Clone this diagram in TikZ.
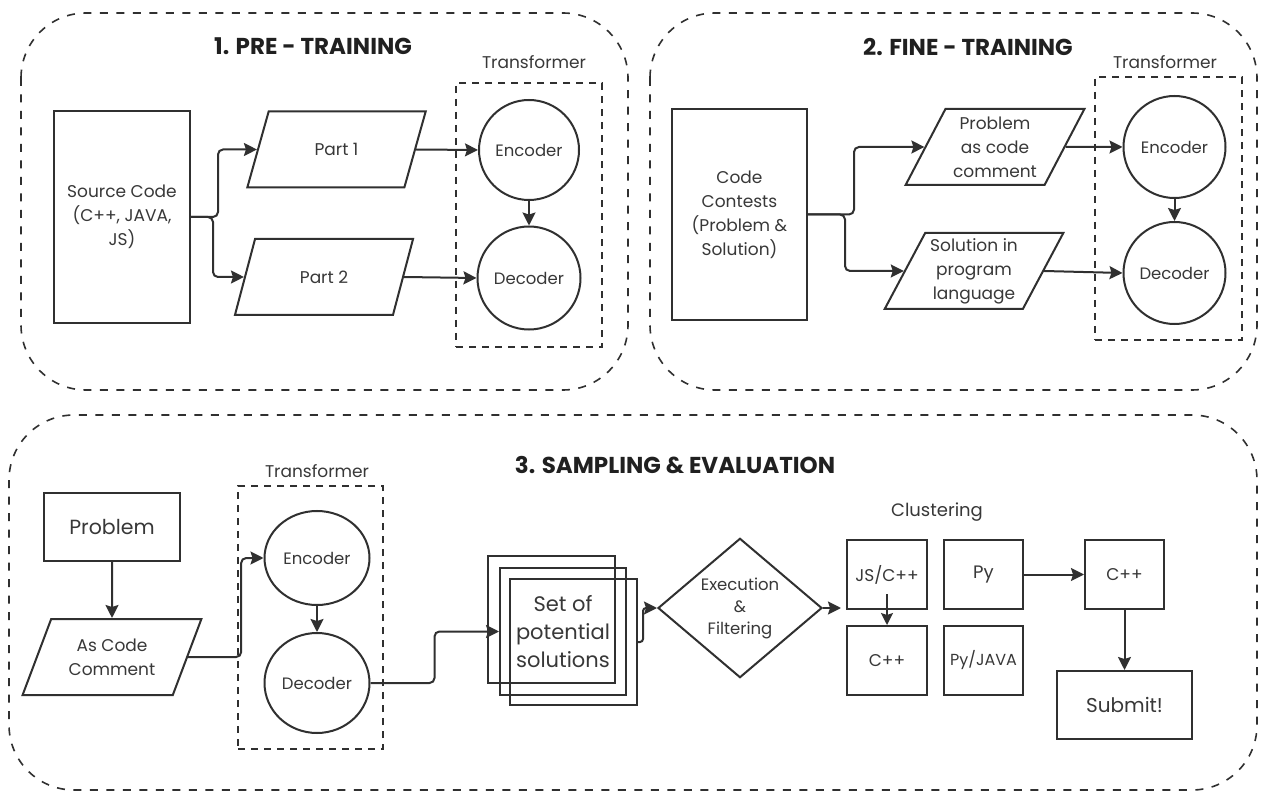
\documentclass[tikz,border=0pt]{standalone}
\usepackage{fontspec}
\setmainfont{Poppins}
\usetikzlibrary{shapes.geometric,arrows.meta}
\definecolor{ink}{HTML}{303030}
\definecolor{txt}{HTML}{383838}
\definecolor{ttl}{HTML}{202020}
\newcommand\myfs[2]{\fontsize{#1}{#2}\selectfont}
\begin{document}
\begin{tikzpicture}[x=1pt,y=-1pt,
  panel/.style={draw=ink, line width=1.6pt, dash pattern=on 8pt off 8.5pt, rounded corners=65pt},
  tfbox/.style={draw=ink, line width=1.9pt, dash pattern=on 7pt off 6pt, inner sep=0pt},
  box/.style={draw=ink, line width=2pt, text=txt, align=center, inner sep=1pt, font=\myfs{17}{24}},
  para/.style={shape=trapezium, trapezium left angle=61, trapezium right angle=119, trapezium stretches=true,
     minimum width=179pt, minimum height=76pt, draw=ink, line width=2pt, inner sep=0pt, align=center, text=txt, font=\myfs{17}{24}},
  circ/.style={circle, draw=ink, line width=2pt, inner sep=0pt, text=txt, font=\myfs{16.5}{18}},
  ell/.style={ellipse, draw=ink, line width=2pt, inner sep=0pt, text=txt, font=\myfs{16.5}{18}},
  title/.style={font=\bfseries\myfs{23}{26}, text=ttl, inner sep=0pt},
  lbl/.style={font=\myfs{17}{18}, text=txt, inner sep=0pt},
  arr/.style={draw=ink, line width=2pt, rounded corners=5pt, -{Stealth[length=13pt,width=13pt,inset=2pt]}},
  arrthin/.style={draw=ink, line width=1.6pt, -{Stealth[length=12pt,width=12pt,inset=2pt]}}
]
\useasboundingbox (0,0) rectangle (1262,794);
\fill[white] (0,0) rectangle (1262,794);

% panels
\draw[panel] (21,13) rectangle (628,390);
\draw[panel] (650,13) rectangle (1257,390);
\draw[panel] (9,415) rectangle (1257,790);

% titles
\node[title] (t1) at (313,46) {1. PRE - TRAINING};
\node[title] (t2) at (968,47) {2. FINE - TRAINING};
\node[title] (t3) at (675,465) {3. SAMPLING \& EVALUATION};

% ---------- panel 1
\node[box, minimum width=136pt, minimum height=212pt] (src) at (122,217) {Source Code\\(C++, JAVA,\\JS)};
\node[para] (p1) at (336.5,149.5) {Part 1};
\node[para] (p2) at (324,277) {Part 2};
\node[tfbox, minimum width=146pt, minimum height=264pt] (tf1) at (529,215) {};
\node[lbl] (tl1) at (534,62) {Transformer};
\node[circ, minimum size=100pt] (enc1) at (529,150) {Encoder};
\node[circ, minimum size=103pt] (dec1) at (529,278) {Decoder};
\draw[arr] (src.east) -- ++(27,0) |- (p1.west);
\draw[arr] (src.east) -- ++(22,0) |- (p2.west);
\draw[arr] (p1.east) -- (enc1.west);
\draw[arr] (p2.east) -- (dec1.west);
\draw[arr] (enc1.south) -- (dec1.north);

% ---------- panel 2
\node[box, minimum width=135pt, minimum height=211pt] (cc) at (739.5,214.5) {Code\\Contests\\(Problem \&\\Solution)};
\node[para] (p3) at (995,147) {Problem\\as code\\comment};
\node[para] (p4) at (974,271) {Solution in\\program\\language};
\node[tfbox, minimum width=147pt, minimum height=263pt] (tf2) at (1168.5,208.5) {};
\node[lbl] (tl2) at (1165,62) {Transformer};
\node[circ, minimum size=102pt] (enc2) at (1174.5,147) {Encoder};
\node[circ, minimum size=102pt] (dec2) at (1174.5,273) {Decoder};
\draw[arr] (cc.east) -- ++(46,0) |- (p3.west);
\draw[arr] (cc.east) -- ++(37,0) |- (p4.west);
\draw[arr] (p3.east) -- (enc2.west);
\draw[arr] (p4.east) -- (dec2.west);
\draw[arr] (enc2.south) -- (dec2.north);

% ---------- panel 3
\node[box, minimum width=136pt, minimum height=68pt, font=\myfs{20.5}{26}] (prob) at (112,527) {Problem};
\node[para] (acc) at (112,657) {As Code\\Comment};
\draw[arr] (prob.south) -- (acc.north);
\node[tfbox, minimum width=145pt, minimum height=263pt] (tf3) at (310.5,617.5) {};
\node[lbl] (tl3) at (317,471) {Transformer};
\node[ell, minimum width=105pt, minimum height=94pt] (enc3) at (317,558) {Encoder};
\node[ell, minimum width=105pt, minimum height=100pt] (dec3) at (317,683) {Decoder};
\draw[arr] (enc3.south) -- (dec3.north);
\draw[arr] (acc.east) -- ++(53,0) |- (enc3.west);

\node[box, minimum width=127pt, minimum height=127pt] (setback) at (551.5,619.5) {};
\node[box, minimum width=126pt, minimum height=127pt, font=\myfs{21}{28}] (set) at (563,631.5) {Set of\\potential\\solutions};
\node[box, minimum width=127pt, minimum height=126pt] (setfront) at (573.5,642) {};
\draw[arr] (dec3.east) -- ++(64,0) |- (set.west);

\node[shape=diamond, draw=ink, line width=2pt, minimum width=164pt, minimum height=134pt, inner sep=0pt,
      align=center, text=txt, font=\myfs{16.5}{22}] (diam) at (740,608) {Execution\\\&\\Filtering};
\draw[arr, rounded corners=3pt] (setfront.east) -- ++(5,0) |- (diam.west);
\coordinate (clin) at (841,608);
\draw[arr] (diam.east) -- (clin);

\node[lbl, font=\myfs{18}{20}] (clu) at (937,512) {Clustering};
\node[box, minimum width=80pt, minimum height=69pt] (js) at (887,574.5) {JS/C++};
\node[box, minimum width=80pt, minimum height=69pt] (cpp1) at (887,660.5) {C++};
\node[box, minimum width=79pt, minimum height=69pt, font=\myfs{18}{20}] (py) at (983.5,574.5) {Py};
\node[box, minimum width=79pt, minimum height=69pt, font=\myfs{16}{18}] (pyj) at (983.5,660.5) {Py/JAVA};
\node[box, minimum width=79pt, minimum height=69pt] (cpp2) at (1124.5,574.5) {C++};
\node[box, minimum width=135pt, minimum height=68pt, font=\myfs{20}{24}] (sub) at (1124.5,705) {Submit!};
\coordinate (jsin) at (887,594);
\draw[arrthin] (jsin) -- (cpp1.north);
\draw[arr] (py.east) -- (cpp2.west);
\draw[arr] (cpp2.south) -- (sub.north);
\end{tikzpicture}
\end{document}
